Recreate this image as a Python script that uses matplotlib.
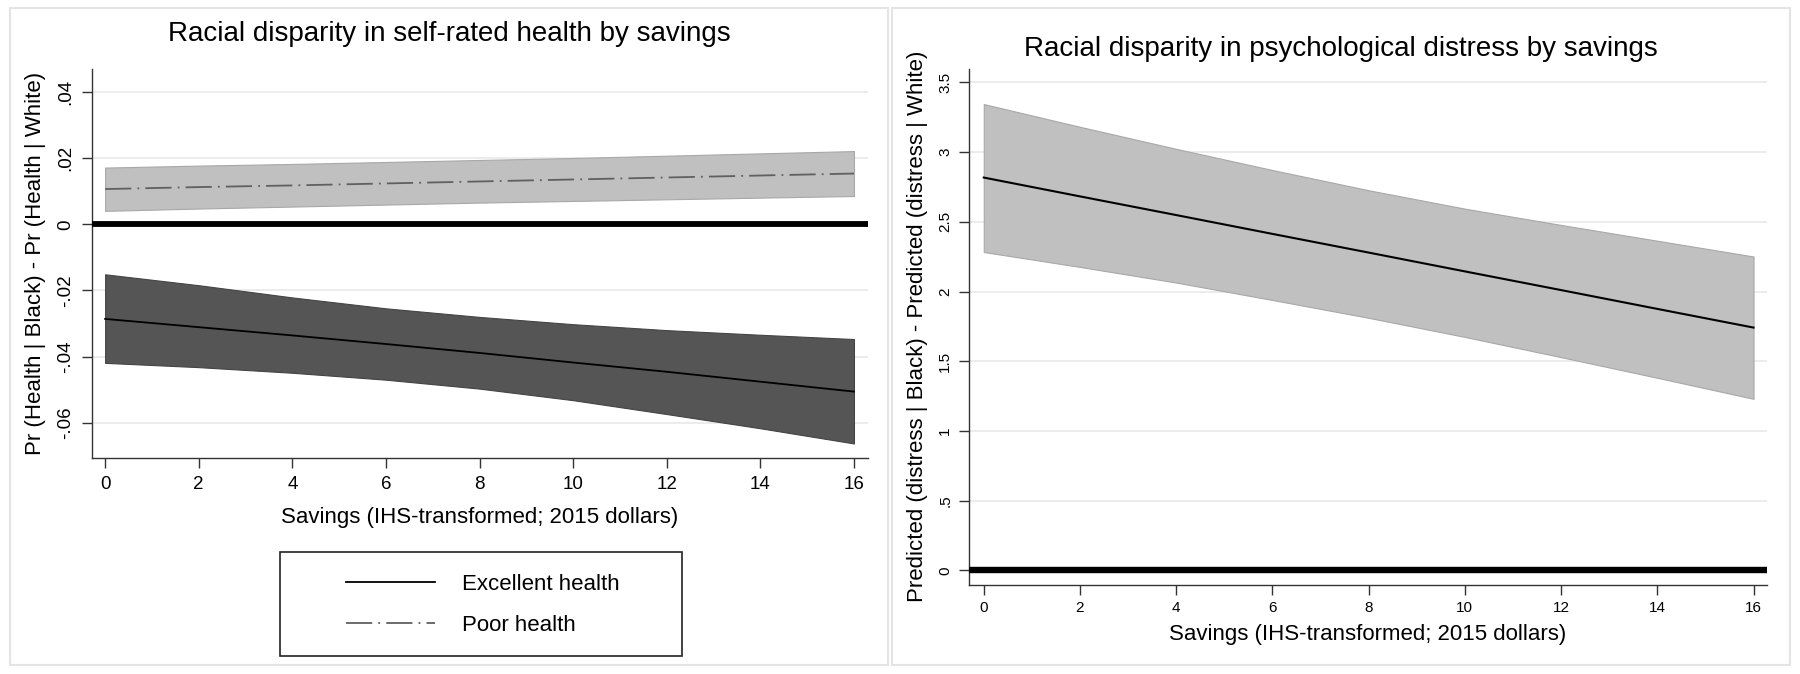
import numpy as np
import matplotlib
matplotlib.use("Agg")
import matplotlib.pyplot as plt
from matplotlib.patches import Rectangle

plt.rcParams['font.family'] = ['Liberation Sans', 'DejaVu Sans']

# =============================================================================
# Data
# =============================================================================
savings = [0, 2, 4, 6, 8, 10, 12, 14, 16]

# Left panel: Pr(Health | Black) - Pr(Health | White)
excellent_est = [-0.0286, -0.0311, -0.0336, -0.0362, -0.0389, -0.0418, -0.0446, -0.0476, -0.0506]
excellent_hi  = [-0.0151, -0.0184, -0.0221, -0.0254, -0.0280, -0.0302, -0.0320, -0.0334, -0.0347]
excellent_lo  = [-0.0419, -0.0432, -0.0449, -0.0470, -0.0497, -0.0532, -0.0574, -0.0617, -0.0663]

poor_est = [0.0107, 0.0113, 0.0118, 0.0124, 0.0130, 0.0136, 0.0142, 0.0148, 0.0154]
poor_hi  = [0.0172, 0.0178, 0.0183, 0.0189, 0.0195, 0.0201, 0.0208, 0.0215, 0.0222]
poor_lo  = [0.0041, 0.0048, 0.0054, 0.0060, 0.0066, 0.0071, 0.0076, 0.0081, 0.0086]

# Right panel: Predicted distress difference
distress_est = [2.818, 2.683, 2.549, 2.414, 2.280, 2.145, 2.011, 1.876, 1.742]
distress_hi  = [3.345, 3.182, 3.024, 2.872, 2.727, 2.595, 2.478, 2.365, 2.252]
distress_lo  = [2.284, 2.177, 2.065, 1.940, 1.812, 1.675, 1.530, 1.382, 1.231]

x_ticks       = [0, 2, 4, 6, 8, 10, 12, 14, 16]
left_yticks   = [-0.06, -0.04, -0.02, 0, 0.02, 0.04]
left_ylabels  = ["-.06", "-.04", "-.02", "0", ".02", ".04"]
right_yticks  = [0, 0.5, 1, 1.5, 2, 2.5, 3, 3.5]
right_ylabels = ["0", ".5", "1", "1.5", "2", "2.5", "3", "3.5"]

xlabel = "Savings (IHS-transformed; 2015 dollars)"

# =============================================================================
# Figure
# =============================================================================
W, H = 1800, 674
fig = plt.figure(figsize=(W / 100, H / 100), dpi=100)


def fx(px):
    return px / W


def fy(py):
    return 1 - py / H


# panel borders
for x0, x1 in [(10, 888), (892, 1790)]:
    fig.patches.append(Rectangle((fx(x0), fy(665)), fx(x1 - x0), (665 - 8) / H,
                                 transform=fig.transFigure, fill=False,
                                 edgecolor="#e4e4e4", lw=1.5))

ax1 = fig.add_axes([fx(92), fy(458), fx(868 - 92), (458 - 68.8) / H])
ax2 = fig.add_axes([fx(969), fy(584.7), fx(1767 - 969), (584.7 - 68.8) / H])


def style_axes(ax, yticks, ylabels, tick_fs, tick_family, pad):
    for s in ["top", "right"]:
        ax.spines[s].set_visible(False)
    for s in ["left", "bottom"]:
        ax.spines[s].set_color("#333333")
        ax.spines[s].set_linewidth(1.0)
    ax.set_xticks(x_ticks)
    ax.set_xticklabels([str(t) for t in x_ticks], fontsize=tick_fs, family=tick_family)
    ax.set_yticks(yticks)
    ax.set_yticklabels(ylabels, fontsize=tick_fs, rotation=90, va="center", family=tick_family)
    ax.tick_params(length=7, width=1.0, color="#333333", pad=pad)
    ax.grid(axis="y", color="#ebebeb", lw=1.3)
    ax.grid(axis="x", visible=False)
    ax.set_axisbelow(True)


# ---- left panel
ax1.fill_between(savings, poor_lo, poor_hi, facecolor="#c0c0c0", edgecolor="#a8a8a8", lw=0.8, zorder=2)
ax1.fill_between(savings, excellent_lo, excellent_hi, facecolor="#555555", edgecolor="#444444", lw=0.8, zorder=2)
ax1.axhline(0, color="black", lw=4.2, zorder=3)
l_exc, = ax1.plot(savings, excellent_est, color="black", lw=1.3, zorder=4, label="Excellent health")
l_poor, = ax1.plot(savings, poor_est, color="#606060", lw=1.3, zorder=4,
                   linestyle=(0, (14.5, 3.4, 1.0, 3.4)), label="Poor health")
ax1.set_xlim(-0.28, 16.3)
ax1.set_ylim(-0.0707, 0.0471)
style_axes(ax1, left_yticks, left_ylabels, 13.5, ["Liberation Sans", "DejaVu Sans"], 6)
ax1.set_xlabel(xlabel, fontsize=16, va="center")
ax1.xaxis.set_label_coords(0.5, -0.154)
ax1.set_ylabel("Pr (Health | Black) - Pr (Health | White)", fontsize=16, va="center")
ax1.yaxis.set_label_coords(-0.0727, 0.5)

# legend box
fig.patches.append(Rectangle((fx(280), fy(656)), fx(402), 104 / H, transform=fig.transFigure,
                             fill=False, edgecolor="#222222", lw=1.2))
fig.legend(handles=[l_exc, l_poor], loc="center", bbox_to_anchor=(fx(483), fy(605)),
           frameon=False, fontsize=16, handlelength=4.0, handletextpad=1.2, labelspacing=0.9)

# ---- right panel
ax2.fill_between(savings, distress_lo, distress_hi, facecolor="#c0c0c0", edgecolor="#a8a8a8", lw=0.8, zorder=2)
ax2.axhline(0, color="black", lw=4.6, zorder=3)
ax2.plot(savings, distress_est, color="black", lw=1.5, zorder=4)
ax2.set_xlim(-0.307, 16.28)
ax2.set_ylim(-0.102, 3.598)
style_axes(ax2, right_yticks, right_ylabels, 11,
           ["Liberation Sans Narrow", "Liberation Sans", "DejaVu Sans"], 5)
ax2.set_xlabel(xlabel, fontsize=16, va="center")
ax2.xaxis.set_label_coords(0.5, -0.0956)
ax2.set_ylabel("Predicted (distress | Black) - Predicted (distress | White)", fontsize=16, va="center")
ax2.yaxis.set_label_coords(-0.065, 0.5)

# titles
fig.text(fx(449), fy(34), "Racial disparity in self-rated health by savings",
         fontsize=20, ha="center", va="center")
fig.text(fx(1341), fy(49), "Racial disparity in psychological distress by savings",
         fontsize=20, ha="center", va="center")

fig.savefig("out.png", dpi=100, facecolor="white")
